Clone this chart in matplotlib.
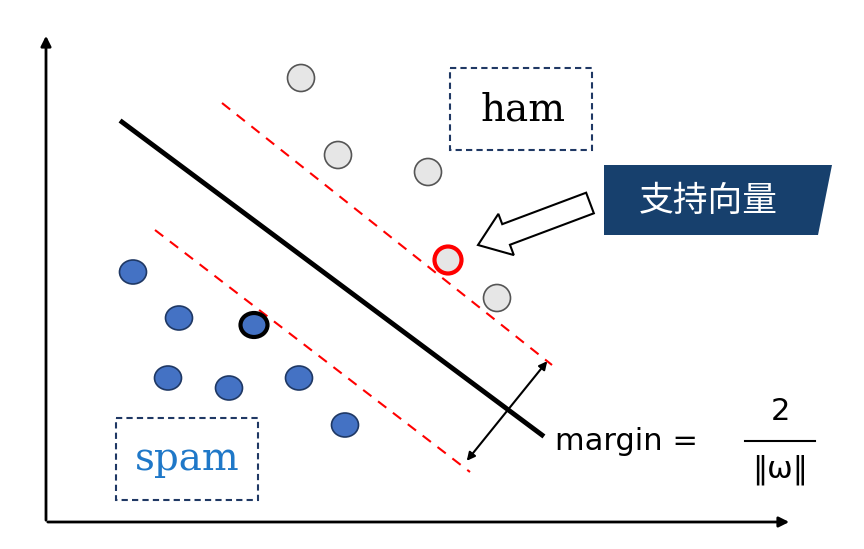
import matplotlib.pyplot as plt
from matplotlib.patches import Ellipse, Rectangle, Polygon, FancyArrow

plt.rcParams['font.family'] = ['Noto Sans CJK SC', 'DejaVu Sans']

# point positions (pixel space)
ham_x = [301, 338, 428, 497]
ham_y = [78, 155, 172, 298]
sv_ham = (448, 260)
spam_x = [133, 179, 168, 229, 299, 345]
spam_y = [272, 318, 378, 388, 378, 425]
sv_spam = (254, 325)

fig = plt.figure(figsize=(8.64, 5.49), dpi=100)
ax = fig.add_axes([0, 0, 1, 1])
ax.set_xlim(0, 864)
ax.set_ylim(549, 0)
ax.axis('off')

# axes arrows
ax.annotate('', xy=(46, 33), xytext=(46, 523),
            arrowprops=dict(arrowstyle='-|>', color='black', lw=2, mutation_scale=15))
ax.annotate('', xy=(792, 522), xytext=(45, 522),
            arrowprops=dict(arrowstyle='-|>', color='black', lw=2, mutation_scale=15))

# hyperplane and margins
ax.plot([122, 542], [122, 435], color='black', lw=3.5)
ax.plot([222, 552], [103, 365], color='red', lw=1.5, ls=(0, (5, 4)))
ax.plot([155, 470], [230, 472], color='red', lw=1.5, ls=(0, (5, 4)))

r = 27
for x, y in zip(ham_x, ham_y):
    ax.add_patch(Ellipse((x, y), r, r, facecolor='#e6e6e6', edgecolor='#555555', lw=1.2, zorder=3))
ax.add_patch(Ellipse(sv_ham, r, r, facecolor='#e6e6e6', edgecolor='red', lw=3, zorder=3))
for x, y in zip(spam_x, spam_y):
    ax.add_patch(Ellipse((x, y), r, 24, facecolor='#4472c4', edgecolor='#1f3864', lw=1.2, zorder=3))
ax.add_patch(Ellipse(sv_spam, r, 24, facecolor='#4472c4', edgecolor='black', lw=3, zorder=3))

# class boxes
ax.add_patch(Rectangle((450, 68), 142, 82, fill=False, edgecolor='#1f3864', lw=1.5, ls=(0, (3, 2))))
ax.text(523, 110, 'ham', family='DejaVu Serif', fontsize=28, ha='center', va='center')
ax.add_patch(Rectangle((116, 418), 142, 82, fill=False, edgecolor='#1f3864', lw=1.5, ls=(0, (3, 2))))
ax.text(187, 459, 'spam', family='DejaVu Serif', fontsize=28, ha='center', va='center', color='#1f78c8')

# support vector label
ax.add_patch(Polygon([(604, 165), (832, 165), (818, 235), (604, 235)], closed=True,
                     facecolor='#17406d', edgecolor='none'))
ax.text(708, 201, '支持向量', color='white', fontsize=25, ha='center', va='center')
ax.add_patch(FancyArrow(590, 203, -112, 42, width=22, head_width=44, head_length=30,
                        length_includes_head=True, facecolor='white', edgecolor='black', lw=1.5, zorder=4))

# margin
ax.annotate('', xy=(465, 463), xytext=(549, 359),
            arrowprops=dict(arrowstyle='<|-|>', color='black', lw=1.5, mutation_scale=12))
ax.text(555, 442, 'margin =', fontsize=22, ha='left', va='center', family='DejaVu Sans')
ax.text(780, 412, '2', fontsize=22, ha='center', va='center', family='DejaVu Sans')
ax.plot([745, 815], [441, 441], color='black', lw=1.5)
ax.text(780, 470, '‖ω‖', fontsize=22, ha='center', va='center', family='DejaVu Sans')

fig.savefig('out.png', dpi=100, facecolor='white')
